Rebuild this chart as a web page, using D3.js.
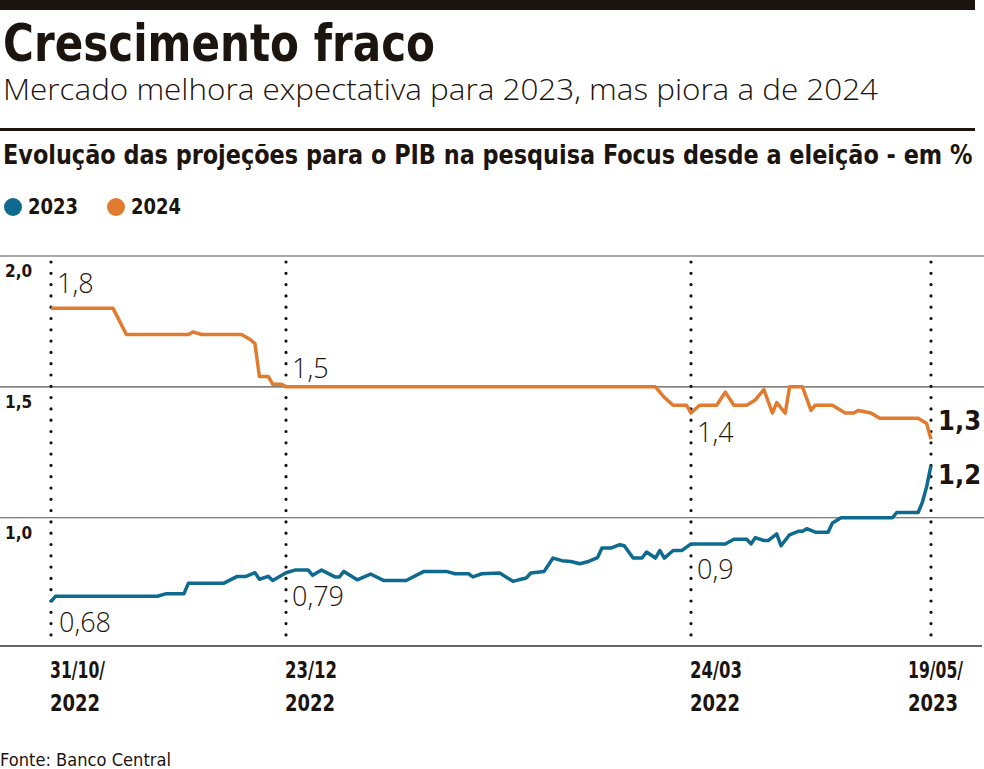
<!DOCTYPE html>
<html>
<head>
<meta charset="utf-8">
<script src="https://cdn.jsdelivr.net/npm/d3@7"></script>
<style>
  body { margin: 0; background: #fff; }
  svg { display: block; }
</style>
</head>
<body>
<div id="chart"></div>
<script>
// Datas e valores da pesquisa Focus (PIB, em %)
var datas2024 = ["2022-10-31","2022-11-14","2022-11-17","2022-12-01","2022-12-02","2022-12-04","2022-12-13",
  "2022-12-15","2022-12-16","2022-12-17","2022-12-19","2022-12-20","2022-12-22","2022-12-23","2023-03-16",
  "2023-03-18","2023-03-20","2023-03-23","2023-03-24","2023-03-26","2023-03-30","2023-04-01","2023-04-03",
  "2023-04-06","2023-04-08","2023-04-10","2023-04-12","2023-04-13","2023-04-15","2023-04-16","2023-04-19",
  "2023-04-21","2023-04-22","2023-04-26","2023-04-29","2023-05-01","2023-05-02","2023-05-05","2023-05-07",
  "2023-05-16","2023-05-18","2023-05-19"];
var valores2024 = [1.80,1.80,1.70,1.70,1.71,1.70,1.70,
  1.68,1.665,1.54,1.54,1.51,1.51,1.50,1.50,
  1.46,1.43,1.43,1.40,1.43,1.43,1.48,1.43,
  1.43,1.45,1.49,1.40,1.44,1.40,1.50,1.50,
  1.41,1.43,1.43,1.40,1.40,1.41,1.40,1.38,
  1.38,1.36,1.30];

var datas2023 = ["2022-10-31","2022-11-01","2022-11-24","2022-11-26","2022-11-30","2022-12-01","2022-12-09",
  "2022-12-12","2022-12-14","2022-12-16","2022-12-17","2022-12-19","2022-12-20","2022-12-23","2022-12-25",
  "2022-12-28","2022-12-29","2022-12-31","2023-01-03","2023-01-04","2023-01-05","2023-01-08","2023-01-11",
  "2023-01-14","2023-01-19","2023-01-23","2023-01-28","2023-01-30","2023-02-02","2023-02-03","2023-02-05",
  "2023-02-09","2023-02-12","2023-02-14","2023-02-15","2023-02-16","2023-02-19","2023-02-21","2023-02-23",
  "2023-02-25","2023-02-27","2023-03-01","2023-03-03","2023-03-04","2023-03-06","2023-03-08","2023-03-09",
  "2023-03-11","2023-03-13","2023-03-14","2023-03-16","2023-03-17","2023-03-18","2023-03-20","2023-03-22",
  "2023-03-24","2023-03-28","2023-04-01","2023-04-03","2023-04-06","2023-04-07","2023-04-08","2023-04-10",
  "2023-04-11","2023-04-13","2023-04-14","2023-04-16","2023-04-18","2023-04-19","2023-04-20","2023-04-22",
  "2023-04-25","2023-04-26","2023-04-28","2023-05-10","2023-05-11","2023-05-16","2023-05-17","2023-05-18",
  "2023-05-19"];
var valores2023 = [0.68,0.70,0.70,0.71,0.71,0.75,0.75,
  0.776,0.776,0.79,0.765,0.776,0.76,0.79,0.80,
  0.80,0.78,0.80,0.774,0.774,0.795,0.763,0.785,
  0.76,0.76,0.795,0.795,0.786,0.786,0.774,0.786,
  0.789,0.757,0.766,0.77,0.789,0.795,0.846,0.836,
  0.833,0.824,0.833,0.848,0.884,0.884,0.897,0.893,
  0.846,0.846,0.869,0.846,0.875,0.846,0.875,0.875,
  0.90,0.90,0.90,0.918,0.918,0.90,0.924,0.913,
  0.913,0.938,0.893,0.935,0.948,0.948,0.958,0.945,
  0.945,0.98,1.00,1.00,1.02,1.02,1.06,1.12,
  1.20];

// Marcos do eixo X
var marcosDatas = ["2022-10-31","2022-12-23","2023-03-24","2023-05-19"];
var marcosLinha1 = ["31/10/","23/12","24/03","19/05/"];
var marcosLinha2 = ["2022","2022","2022","2023"];

// Eixo Y
var ticksY = [2.0, 1.5, 1.0];
var ticksYLabels = ["2,0","1,5","1,0"];

// Rótulos sobre as linhas
var rotulos2024 = [["2022-10-31","1,8"],["2022-12-23","1,5"],["2023-03-24","1,4"]];
var rotulos2023 = [["2022-10-31","0,68"],["2022-12-23","0,79"],["2023-03-24","0,9"]];
var finalTexto = ["1,3","1,2"];

var legendaNomes = ["2023","2024"];
var cores = ["#0e6a8e","#e07b2f"];

var W = 984, H = 769;
var parse = d3.timeParse("%Y-%m-%d");
var condensado = "'DejaVu Sans Condensed','DejaVu Sans',sans-serif";
var leve = "'Open Sans','Lato',sans-serif";

var svg = d3.select("#chart").append("svg")
    .attr("width", W)
    .attr("height", H);

// Cabeçalho
svg.append("rect").attr("x", 0).attr("y", 0).attr("width", 975).attr("height", 10).attr("fill", "#1c140f");

svg.append("text")
    .attr("x", 3).attr("y", 61)
    .attr("font-family", condensado).attr("font-weight", "bold").attr("font-size", 51)
    .attr("textLength", 432).attr("lengthAdjust", "spacingAndGlyphs")
    .attr("fill", "#1c140f")
    .text("Crescimento fraco");

svg.append("text")
    .attr("x", 3).attr("y", 100)
    .attr("font-family", leve).attr("font-weight", 300).attr("font-size", 29)
    .attr("textLength", 875).attr("lengthAdjust", "spacingAndGlyphs")
    .attr("fill", "#1c140f")
    .text("Mercado melhora expectativa para 2023, mas piora a de 2024");

svg.append("rect").attr("x", 0).attr("y", 128).attr("width", 975).attr("height", 3).attr("fill", "#1c140f");

// título do gráfico: comprimido horizontalmente para caber na largura
var sub = svg.append("text")
    .attr("x", 0).attr("y", 0)
    .attr("font-family", condensado).attr("font-weight", "bold").attr("font-size", 27)
    .attr("fill", "#1c140f")
    .text("Evolução das projeções para o PIB na pesquisa Focus desde a eleição - em %");
var largura = sub.node().getComputedTextLength();
sub.attr("transform", "translate(3,164) scale(" + (970 / largura) + ",1)");

// Legenda
var leg = svg.selectAll(".leg").data(legendaNomes).enter().append("g")
    .attr("class", "leg")
    .attr("transform", (d, i) => "translate(" + (13 + i * 103) + ",207)");
leg.append("circle").attr("r", 9).attr("fill", (d, i) => cores[i]);
leg.append("text")
    .attr("x", 15).attr("y", 7)
    .attr("font-family", condensado).attr("font-weight", "bold").attr("font-size", 22)
    .attr("textLength", 50).attr("lengthAdjust", "spacingAndGlyphs")
    .attr("fill", "#1c140f")
    .text(d => d);

// Escalas
var x = d3.scaleTime()
    .domain(marcosDatas.map(parse))
    .range([51, 286, 691, 931]);

var y = d3.scaleLinear()
    .domain([0.51, 2.0])
    .range([646, 256]);

// Grade horizontal
svg.selectAll(".grid").data(ticksY).enter().append("line")
    .attr("class", "grid")
    .attr("x1", 0).attr("x2", W)
    .attr("y1", d => y(d)).attr("y2", d => y(d))
    .attr("stroke", "#555").attr("stroke-width", 1.2);

svg.selectAll(".ylab").data(ticksY).enter().append("text")
    .attr("class", "ylab")
    .attr("x", 5).attr("y", d => y(d) + 21)
    .attr("font-family", condensado).attr("font-weight", "bold").attr("font-size", 17)
    .attr("fill", "#1c140f")
    .text((d, i) => ticksYLabels[i]);

// Linha de base
svg.append("line")
    .attr("x1", 0).attr("x2", 982)
    .attr("y1", y(0.51)).attr("y2", y(0.51))
    .attr("stroke", "#666").attr("stroke-width", 2);

// Verticais pontilhadas
svg.selectAll(".vdot").data(marcosDatas).enter().append("line")
    .attr("class", "vdot")
    .attr("x1", d => x(parse(d))).attr("x2", d => x(parse(d)))
    .attr("y1", y(2.0) + 6).attr("y2", y(0.51))
    .attr("stroke", "#111").attr("stroke-width", 3.2)
    .attr("stroke-linecap", "round")
    .attr("stroke-dasharray", "0,11.3");

// Rótulos do eixo X (o último fica recuado para a esquerda, como no original)
var nMarcos = marcosDatas.length;
var xl = svg.selectAll(".xlab").data(marcosDatas).enter().append("g")
    .attr("class", "xlab")
    .attr("transform", (d, i) => "translate(" + (x(parse(d)) + (i === nMarcos - 1 ? -23 : -1)) + ",0)");
xl.append("text")
    .attr("y", 678)
    .attr("font-family", condensado).attr("font-weight", "bold").attr("font-size", 23)
    .attr("textLength", (d, i) => marcosLinha1[i].length > 5 ? 55 : 52)
    .attr("lengthAdjust", "spacingAndGlyphs")
    .attr("fill", "#1c140f")
    .text((d, i) => marcosLinha1[i]);
xl.append("text")
    .attr("y", 711)
    .attr("font-family", condensado).attr("font-weight", "bold").attr("font-size", 23)
    .attr("textLength", 50).attr("lengthAdjust", "spacingAndGlyphs")
    .attr("fill", "#1c140f")
    .text((d, i) => marcosLinha2[i]);

// Linhas das séries
var line = d3.line()
    .x(d => x(d[0]))
    .y(d => y(d[1]));

var s2024 = datas2024.map((d, i) => [parse(d), valores2024[i]]);
var s2023 = datas2023.map((d, i) => [parse(d), valores2023[i]]);

svg.append("path").datum(s2024)
    .attr("d", line)
    .attr("fill", "none").attr("stroke", cores[1])
    .attr("stroke-width", 3.5).attr("stroke-linejoin", "round");

svg.append("path").datum(s2023)
    .attr("d", line)
    .attr("fill", "none").attr("stroke", cores[0])
    .attr("stroke-width", 3.5).attr("stroke-linejoin", "round");

// Rótulos leves
function valorEm(datas, valores, data) {
    return valores[datas.indexOf(data)];
}
var dy2024 = [-15, -9, 29];
rotulos2024.forEach(function(r, i) {
    svg.append("text")
        .attr("x", x(parse(r[0])) + 6)
        .attr("y", y(valorEm(datas2024, valores2024, r[0])) + dy2024[i])
        .attr("font-family", leve).attr("font-weight", 300).attr("font-size", 27)
        .attr("fill", "#1c140f")
        .text(r[1]);
});
var dy2023 = [30, 33, 35];
rotulos2023.forEach(function(r, i) {
    svg.append("text")
        .attr("x", x(parse(r[0])) + (i === 0 ? 8 : 6))
        .attr("y", y(valorEm(datas2023, valores2023, r[0])) + dy2023[i])
        .attr("font-family", leve).attr("font-weight", 300).attr("font-size", 27)
        .attr("fill", "#1c140f")
        .text(r[1]);
});

// Valores finais em negrito
var ultimo = marcosDatas[marcosDatas.length - 1];
svg.append("text")
    .attr("x", x(parse(ultimo)) + 7)
    .attr("y", y(valores2024[valores2024.length - 1]) - 9)
    .attr("font-family", condensado).attr("font-weight", "bold").attr("font-size", 27)
    .attr("fill", "#1c140f")
    .text(finalTexto[0]);
svg.append("text")
    .attr("x", x(parse(ultimo)) + 7)
    .attr("y", y(valores2023[valores2023.length - 1]) + 19)
    .attr("font-family", condensado).attr("font-weight", "bold").attr("font-size", 27)
    .attr("fill", "#1c140f")
    .text(finalTexto[1]);

// Fonte
svg.append("text")
    .attr("x", 0).attr("y", 766)
    .attr("font-family", condensado).attr("font-size", 18)
    .attr("textLength", 171).attr("lengthAdjust", "spacingAndGlyphs")
    .attr("fill", "#1c140f")
    .text("Fonte: Banco Central");
</script>
</body>
</html>
